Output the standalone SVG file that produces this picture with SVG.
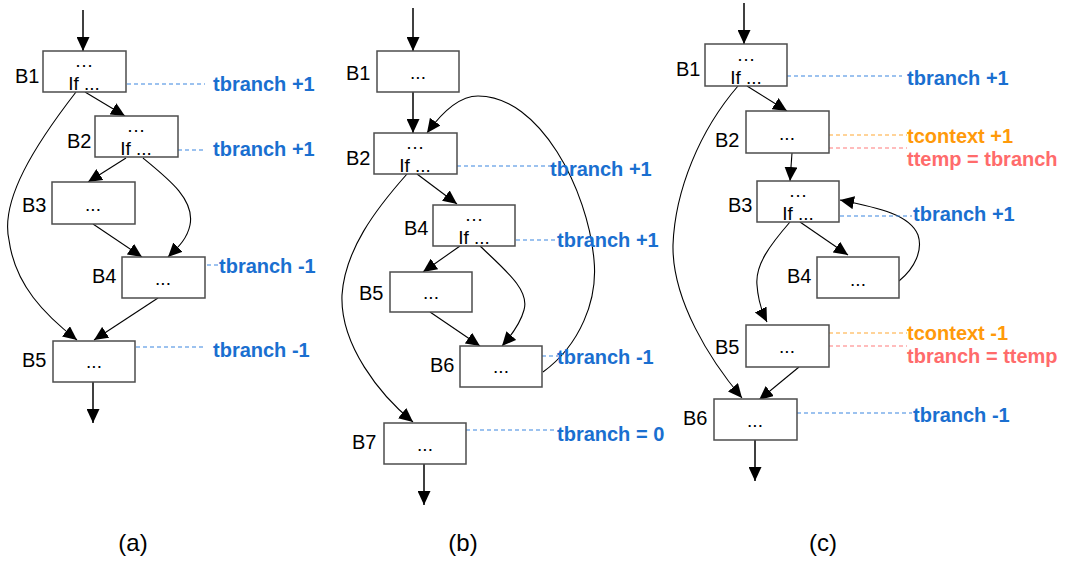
<svg xmlns="http://www.w3.org/2000/svg" width="1067" height="562" viewBox="0 0 1067 562">
<style>
.box{fill:#fff;stroke:#4d4d4d;stroke-width:1.5}
.e{fill:none;stroke:#000;stroke-width:1.1}
.ea{fill:none;stroke:#000;stroke-width:1.1;marker-end:url(#ah)}
.io{fill:none;stroke:#000;stroke-width:1.5;marker-end:url(#ah)}
.lbl{font-family:"Liberation Sans",Arial,sans-serif;font-size:20px;fill:#000}
.in{font-family:"Liberation Sans",Arial,sans-serif;font-size:19px;fill:#000;text-anchor:middle}
.ann{font-family:"Liberation Sans",Arial,sans-serif;font-size:20px;font-weight:bold}
.b{fill:#1a6fd0}.o{fill:#ff9a0a}.r{fill:#ff6b6b}
.db{stroke:#3a86e0;stroke-width:1.2;stroke-dasharray:4,3;fill:none}
.do{stroke:#ffa733;stroke-width:1.2;stroke-dasharray:4,3;fill:none}
.dr{stroke:#ff7a7a;stroke-width:1.2;stroke-dasharray:4,3;fill:none}
.cap{font-family:"Liberation Sans",Arial,sans-serif;font-size:24px;fill:#000;text-anchor:middle}
</style>
<defs>
<marker id="ah" markerUnits="userSpaceOnUse" markerWidth="14" markerHeight="13" refX="14" refY="6.5" orient="auto">
<path d="M0,0 L14,6.5 L0,13 z" fill="#000"/>
</marker>
</defs>

<g id="connectors">
<!-- (a) -->
<path class="io" d="M83,10 V51"/>
<path class="ea" d="M85,92 L125,116"/>
<path class="ea" d="M126,158 L88,182"/>
<path class="ea" d="M93,224 L142,257"/>
<path class="ea" d="M158,298 L94,340"/>
<path class="ea" d="M76,92 C35,145 0,200 9,240 C15,285 45,315 77,340"/>
<path class="ea" d="M143,158 C170,180 195,200 190,225 C187,240 176,249 168,257"/>
<path class="io" d="M93,382 V423"/>
<!-- (b) -->
<path class="io" d="M413,8 V51"/>
<path class="io" d="M413,92 V133"/>
<path class="ea" d="M543,372 C580,345 598,300 594,260 C588,190 540,96 478,96 C458,96 440,115 427,133"/>
<path class="ea" d="M417,174 L457,204"/>
<path class="ea" d="M407,174 C375,210 345,250 342,295 C340,345 380,395 413,422"/>
<path class="ea" d="M460,246 L423,272"/>
<path class="ea" d="M480,246 C505,270 530,290 524,310 C520,325 510,337 502,346"/>
<path class="ea" d="M430,312 L480,346"/>
<path class="io" d="M424,464 V505"/>
<!-- (c) -->
<path class="io" d="M744,3 V44"/>
<path class="ea" d="M747,86 L787,111"/>
<path class="ea" d="M738,86 C700,130 675,190 673,245 C672,300 710,360 742,398"/>
<path class="ea" d="M792,153 L790,181"/>
<path class="ea" d="M800,222 L848,255"/>
<path class="ea" d="M790,222 C770,245 755,265 757,285 C758,300 762,312 767,322"/>
<path class="ea" d="M899,281 C915,268 923,250 918,235 C910,215 880,208 840,200"/>
<path class="ea" d="M799,367 L759,400"/>
<path class="io" d="M755,440 V481"/>
</g>

<g id="annotations">
<path class="db" d="M127,84 H205 M178,150 H205 M207,265 H218 M136,347 H205"/>
<path class="db" d="M457,166 H550 M516,240 H555 M542,356 H558 M466,430 H555"/>
<path class="db" d="M787,76 H902 M840,216 H912 M797,413 H912"/>
<path class="do" d="M829,135 H907 M829,333 H907"/>
<path class="dr" d="M829,148 H907 M829,346 H907"/>
<text class="ann b" x="213" y="91">tbranch +1</text>
<text class="ann b" x="213" y="156">tbranch +1</text>
<text class="ann b" x="219" y="273">tbranch -1</text>
<text class="ann b" x="213" y="357">tbranch -1</text>
<text class="ann b" x="550" y="176">tbranch +1</text>
<text class="ann b" x="557" y="247">tbranch +1</text>
<text class="ann b" x="557" y="364">tbranch -1</text>
<text class="ann b" x="557" y="441">tbranch = 0</text>
<text class="ann b" x="907" y="85">tbranch +1</text>
<text class="ann o" x="907" y="143">tcontext +1</text>
<text class="ann r" x="907" y="166">ttemp = tbranch</text>
<text class="ann b" x="913" y="221">tbranch +1</text>
<text class="ann o" x="907" y="340">tcontext -1</text>
<text class="ann r" x="907" y="363">tbranch = ttemp</text>
<text class="ann b" x="913" y="422">tbranch -1</text>
</g>

<!-- panel (a) -->
<g id="a-B1"><rect class="box" x="43" y="51" width="83" height="41"/><text class="lbl" x="15" y="83">B1</text><text class="in" x="84" y="67">…</text><text class="in" x="84" y="90">If ...</text></g>
<g id="a-B2"><rect class="box" x="95" y="116" width="83" height="41"/><text class="lbl" x="67" y="148">B2</text><text class="in" x="136" y="132">…</text><text class="in" x="136" y="155">If ...</text></g>
<g id="a-B3"><rect class="box" x="52" y="182" width="83" height="42"/><text class="lbl" x="22" y="212">B3</text><text class="in" x="93" y="211">...</text></g>
<g id="a-B4"><rect class="box" x="122" y="257" width="83" height="41"/><text class="lbl" x="92" y="283">B4</text><text class="in" x="163" y="285">...</text></g>
<g id="a-B5"><rect class="box" x="53" y="341" width="82" height="41"/><text class="lbl" x="22" y="367">B5</text><text class="in" x="94" y="368">...</text></g>

<!-- panel (b) -->
<g id="b-B1"><rect class="box" x="377" y="51" width="82" height="41"/><text class="lbl" x="346" y="80">B1</text><text class="in" x="418" y="79">...</text></g>
<g id="b-B2"><rect class="box" x="374" y="133" width="83" height="41"/><text class="lbl" x="346" y="165">B2</text><text class="in" x="415" y="149">…</text><text class="in" x="415" y="172">If ...</text></g>
<g id="b-B4"><rect class="box" x="433" y="205" width="82" height="41"/><text class="lbl" x="404" y="235">B4</text><text class="in" x="474" y="221">…</text><text class="in" x="474" y="244">If ...</text></g>
<g id="b-B5"><rect class="box" x="390" y="272" width="82" height="40"/><text class="lbl" x="359" y="300">B5</text><text class="in" x="431" y="299">...</text></g>
<g id="b-B6"><rect class="box" x="460" y="346" width="82" height="41"/><text class="lbl" x="430" y="372">B6</text><text class="in" x="501" y="373">...</text></g>
<g id="b-B7"><rect class="box" x="384" y="423" width="82" height="41"/><text class="lbl" x="352" y="449">B7</text><text class="in" x="425" y="451">...</text></g>

<!-- panel (c) -->
<g id="c-B1"><rect class="box" x="705" y="44" width="82" height="42"/><text class="lbl" x="676" y="76">B1</text><text class="in" x="746" y="61">…</text><text class="in" x="746" y="84">If ...</text></g>
<g id="c-B2"><rect class="box" x="746" y="111" width="83" height="42"/><text class="lbl" x="715" y="147">B2</text><text class="in" x="787" y="140">...</text></g>
<g id="c-B3"><rect class="box" x="757" y="181" width="82" height="41"/><text class="lbl" x="728" y="212">B3</text><text class="in" x="798" y="197">…</text><text class="in" x="798" y="220">If ...</text></g>
<g id="c-B4"><rect class="box" x="817" y="257" width="82" height="41"/><text class="lbl" x="787" y="283">B4</text><text class="in" x="858" y="286">...</text></g>
<g id="c-B5"><rect class="box" x="746" y="325" width="83" height="42"/><text class="lbl" x="715" y="354">B5</text><text class="in" x="787" y="353">...</text></g>
<g id="c-B6"><rect class="box" x="714" y="399" width="83" height="41"/><text class="lbl" x="683" y="425">B6</text><text class="in" x="755" y="427">...</text></g>

<g id="captions">
<text class="cap" x="133" y="551">(a)</text>
<text class="cap" x="463" y="551">(b)</text>
<text class="cap" x="823" y="551">(c)</text>
</g>
</svg>
